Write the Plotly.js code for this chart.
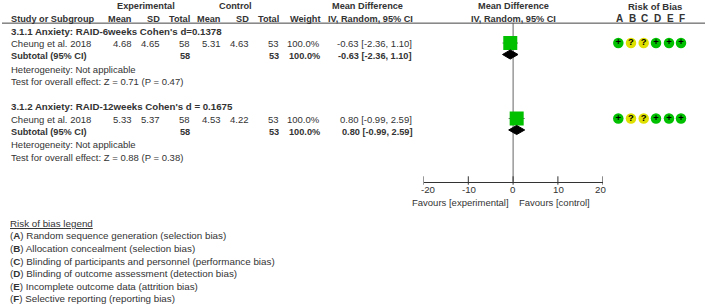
<!DOCTYPE html>
<html><head><meta charset="utf-8">
<script src="https://cdn.plot.ly/plotly-3.0.1.min.js"></script>
<style>html,body{margin:0;padding:0;background:#fff}</style></head>
<body><div id="c" style="width:708px;height:307px"></div>
<script>
const W = 708, H = 307, ROW0 = 6, ROWH = 12.6;
const FONT = '"Liberation Sans", Arial, sans-serif', INK = '#333333';

const studyRows = [3, 9];
const subtotalRows = [4, 10];
const subgroupRows = [2, 8];
const subgroupNames = ["3.1.1 Anxiety: RAID-6weeks Cohen's d=0.1378", "3.1.2 Anxiety: RAID-12weeks Cohen's d = 0.1675"];
const studies = ['Cheung et al. 2018', 'Cheung et al. 2018'];
const expMean = ['4.68', '5.33'], expSD = ['4.65', '5.37'], expTotal = ['58', '58'];
const ctlMean = ['5.31', '4.53'], ctlSD = ['4.63', '4.22'], ctlTotal = ['53', '53'];
const weight = ['100.0%', '100.0%'];
const md = [-0.63, 0.80], ciLow = [-2.36, -0.99], ciHigh = [1.10, 2.59];
const mdText = ['-0.63 [-2.36, 1.10]', '0.80 [-0.99, 2.59]'];
const heterogeneity = ['Heterogeneity: Not applicable', 'Heterogeneity: Not applicable'];
const overall = ['Test for overall effect: Z = 0.71 (P = 0.47)', 'Test for overall effect: Z = 0.88 (P = 0.38)'];
const squareRows = [2.94, 8.93], diamondRows = [3.85, 9.84];
const tickVals = [-20, -10, 0, 10, 20];
const tickShift = [4.5, 1.5, 0, 1, -2.7];
const axisRow = 13.95;
const biasLetters = ['A', 'B', 'C', 'D', 'E', 'F'];
const biasX = [618.3, 631, 643.7, 656, 669, 681];
const biasLabelX = [619, 632, 644, 657, 670, 682];
const biasRows = [2.94, 8.93];
const biasJudgement = ['+', '?', '?', '+', '+', '+'];
const legendLetters = ['A', 'B', 'C', 'D', 'E', 'F'];
const legendItems = ['Random sequence generation (selection bias)', 'Allocation concealment (selection bias)',
  'Blinding of participants and personnel (performance bias)', 'Blinding of outcome assessment (detection bias)',
  'Incomplete outcome data (attrition bias)', 'Selective reporting (reporting bias)'];

const FS = 9.5, FB = 9.2;
const notes = [];
function t(px, row, text, align, bold, size) {
  notes.push({xref: 'paper', yref: 'y', x: px / W, y: row, text: bold ? '<b>' + text + '</b>' : text,
    showarrow: false, xanchor: align || 'left', yanchor: 'middle', borderpad: 0,
    font: {family: FONT, size: size || (bold ? FB : FS), color: INK}});
}
// headers
t(146, 0, 'Experimental', 'center', true); t(235, 0, 'Control', 'center', true);
t(367, 0, 'Mean Difference', 'center', true); t(513, 0, 'Mean Difference', 'center', true);
t(655, 0, 'Risk of Bias', 'center', true, 9.5);
t(10, 1, 'Study or Subgroup', 'left', true); t(133, 1, 'Mean', 'right', true); t(160.5, 1, 'SD', 'right', true);
t(190.7, 1, 'Total', 'right', true); t(222, 1, 'Mean', 'right', true); t(249.5, 1, 'SD', 'right', true);
t(279.5, 1, 'Total', 'right', true); t(320.5, 1, 'Weight', 'right', true);
t(370.5, 1, 'IV, Random, 95% CI', 'center', true); t(513, 1, 'IV, Random, 95% CI', 'center', true);
biasLetters.forEach((l, i) => t(biasLabelX[i], 1, l, 'center', true, 10));
// groups
[0, 1].forEach(g => {
  t(9.5, subgroupRows[g], subgroupNames[g], 'left', true, 9.7);
  const r = studyRows[g], s = subtotalRows[g];
  t(9.5, r, studies[g]); t(133, r, expMean[g], 'right'); t(160.5, r, expSD[g], 'right'); t(190.7, r, expTotal[g], 'right');
  t(222, r, ctlMean[g], 'right'); t(249.5, r, ctlSD[g], 'right'); t(279.5, r, ctlTotal[g], 'right'); t(320.5, r, weight[g], 'right');
  t(413, r, mdText[g], 'right');
  t(10, s, 'Subtotal (95% CI)', 'left', true); t(190.7, s, expTotal[g], 'right', true); t(279.5, s, ctlTotal[g], 'right', true);
  t(320.5, s, weight[g], 'right', true); t(413, s, mdText[g], 'right', true);
  t(9.5, s + 1, heterogeneity[g]); t(9.5, s + 2, overall[g]);
});
t(510, 15.58, 'Favours [experimental]', 'right'); t(518, 15.58, 'Favours [control]', 'left');
t(9, 17.25, '<span style="text-decoration:underline">Risk of bias legend</span>', 'left', false, 9.8);
legendItems.forEach((s, i) => t(9, 18.25 + i, '(<b>' + legendLetters[i] + '</b>) ' + s, 'left', false, 9.8));
// axis tick labels, offset from their ticks as in the source
tickVals.forEach((v, i) => notes.push({xref: 'x', yref: 'y', x: v, y: 14.6, xshift: tickShift[i], text: String(v),
  showarrow: false, xanchor: 'center', yanchor: 'middle', borderpad: 0, font: {family: FONT, size: 9.7, color: INK}}));

const traces = [];
// zero line
traces.push({x: [0, 0], y: [1.36, axisRow], mode: 'lines', line: {color: '#666', width: 1}, hoverinfo: 'skip'});
// CI whiskers and squares
traces.push({x: md, y: squareRows, mode: 'markers', marker: {symbol: 'square', size: 14, color: '#00c000', line: {width: 0}},
  error_x: {type: 'data', symmetric: false, array: ciHigh.map((h, i) => h - md[i]), arrayminus: ciLow.map((l, i) => md[i] - l),
    color: '#666', thickness: 1, width: 0}, hoverinfo: 'skip'});
// diamonds
md.forEach((m, i) => {
  const h = 0.36, y = diamondRows[i];
  traces.push({x: [ciLow[i], m, ciHigh[i], m, ciLow[i]], y: [y, y - h, y, y + h, y], mode: 'lines', fill: 'toself',
    fillcolor: '#000', line: {color: '#000', width: 1}, hoverinfo: 'skip'});
});
// axis ticks crossing the line
traces.push({x: tickVals, y: tickVals.map(() => axisRow - 0.1), mode: 'markers', marker: {symbol: 'line-ns', size: 6, line: {color: '#333', width: 1}}, hoverinfo: 'skip'});
// risk of bias circles
biasRows.forEach(r => {
  traces.push({x: biasX, y: biasX.map(() => r), xaxis: 'x2', mode: 'markers+text', text: biasJudgement,
    textposition: 'middle center', textfont: {family: FONT, size: 9.5, color: '#000', weight: 700},
    marker: {size: 10.5, color: biasJudgement.map(j => j === '+' ? '#00c000' : '#e0e000'), line: {width: 0}}, hoverinfo: 'skip'});
});

const layout = {
  width: W, height: H, margin: {l: 0, r: 0, t: 0, b: 0}, showlegend: false,
  paper_bgcolor: '#fff', plot_bgcolor: 'rgba(0,0,0,0)',
  xaxis: {domain: [423.5 / W, 602.7 / W], range: [-20, 20], anchor: 'free', position: 1 - (ROW0 + ROWH * axisRow) / H,
    tickvals: tickVals, showticklabels: false, ticks: '', showgrid: false, zeroline: false, showline: true, linecolor: '#333', linewidth: 1,
    side: 'bottom', layer: 'below traces'},
  xaxis2: {domain: [0, 1], range: [0, W], anchor: 'free', position: 1, visible: false},
  yaxis: {domain: [0, 1], range: [(H - ROW0) / ROWH, -ROW0 / ROWH], visible: false, anchor: 'x2'},
  annotations: notes,
  shapes: [{type: 'line', xref: 'paper', yref: 'y', x0: 2 / W, x1: 705 / W, y0: 1.36, y1: 1.36, line: {color: '#444', width: 1}}]
};
Plotly.newPlot('c', traces, layout, {staticPlot: true, displayModeBar: false});
</script></body></html>
